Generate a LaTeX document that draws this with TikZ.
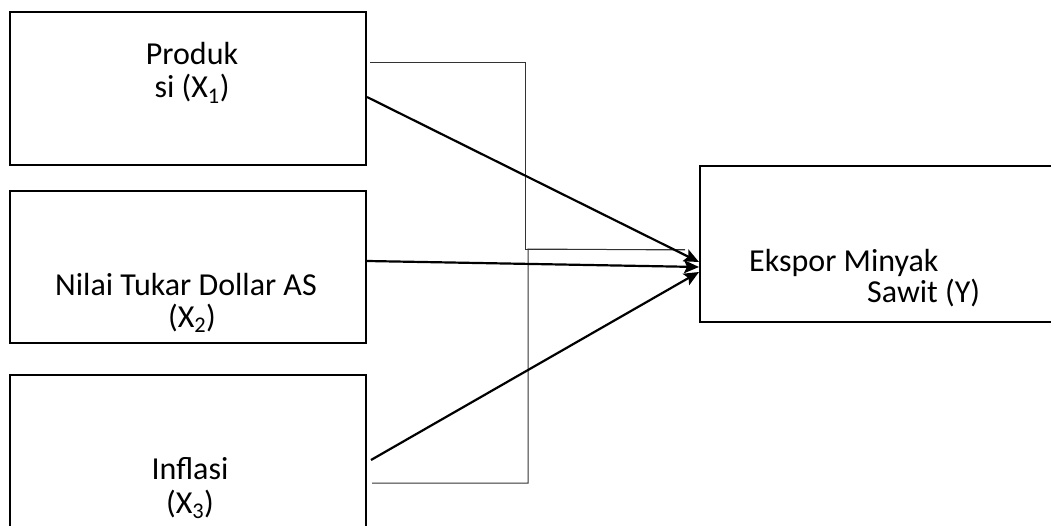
\documentclass[tikz,border=0pt]{standalone}
\usepackage{fontspec}
\setmainfont{Carlito}
\usetikzlibrary{arrows.meta}
\begin{document}
\begin{tikzpicture}[x=1pt,y=-1pt,
  box/.style={draw=black,line width=2pt,inner sep=0pt},
  lbl/.style={font=\fontsize{32}{38}\selectfont,anchor=base,inner sep=0pt},
  thick arrow/.style={draw=black,line width=2.2pt,-{Stealth[length=15pt,width=13pt,inset=3pt]}},
  thin line/.style={draw=black!80,line width=1pt}]
\clip (0,0) rectangle (1051,526);
\fill[white] (0,0) rectangle (1051,526);
% boxes
\node[box,minimum width=356pt,minimum height=153pt] (b1) at (188,89) {};
\node[box,minimum width=356pt,minimum height=152pt] (b2) at (188,267) {};
\node[box,minimum width=356pt,minimum height=200pt] (b3) at (188,475) {};
\node[box,minimum width=380pt,minimum height=156pt] (y) at (890,244) {};
% labels
\node[lbl] (t1a) at (192,65) {Produk};
\node[lbl] (t1b) at (192,98) {si (X\textsubscript{1})};
\node[lbl] (t2a) at (186,295) {Nilai Tukar Dollar AS};
\node[lbl] (t2b) at (192,327) {(X\textsubscript{2})};
\node[lbl] (t3a) at (190,479) {Inflasi};
\node[lbl] (t3b) at (190,513) {(X\textsubscript{3})};
\node[lbl,anchor=base west] (ya) at (749,272) {Ekspor Minyak};
\node[lbl,anchor=base west] (yb) at (867,302) {Sawit (Y)};
% connector end points
\coordinate (s1) at (b1.east |- 0,97);
\coordinate (s2) at (b2.east |- 0,261);
\coordinate (s3) at ([xshift=4pt]b3.east |- 0,460);
\coordinate (e1) at (y.west |- 0,262);
\coordinate (e2) at (y.west |- 0,267);
\coordinate (e3) at (y.west |- 0,272);
\coordinate (p1) at (370,63);
\coordinate (p3) at (372,483);
\coordinate (q) at (685,250);
% thin elbow lines
\draw[thin line] (p1) -- (525,63) -- (525,250) -- (q);
\draw[thin line] (p3) -- (528,483) -- (528,249) -- (q);
% arrows
\draw[thick arrow] (s1) -- (e1);
\draw[thick arrow] (s2) -- (e2);
\draw[thick arrow] (s3) -- (e3);
\end{tikzpicture}
\end{document}
